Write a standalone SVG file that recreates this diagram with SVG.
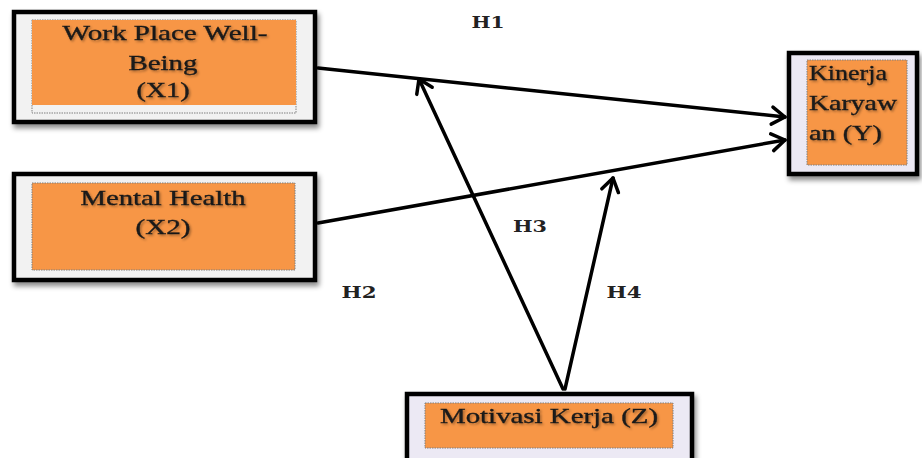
<svg xmlns="http://www.w3.org/2000/svg" width="922" height="458" viewBox="0 0 922 458">
<style>
.frame{stroke:#000;stroke-width:4.5}
.g1{fill:#f2f2f2}
.g2{fill:#ece9f4}
.org{fill:#f79646;stroke:#7f7f7f;stroke-width:1;stroke-dasharray:1.5 1}
.t{font-family:"Liberation Serif","Times New Roman",serif;font-size:21px;fill:#1a1a1a;stroke:#1a1a1a;stroke-width:0.35;filter:url(#ts)}
.h{font-family:"DejaVu Serif","Liberation Serif",serif;font-weight:bold;font-size:17px;fill:#222}
.c{fill:none;stroke:#000;stroke-width:3.5;stroke-linecap:round}
</style>
<defs>
<filter id="sh" x="-10%" y="-10%" width="130%" height="140%">
<feDropShadow dx="2" dy="4" stdDeviation="2.5" flood-color="#000" flood-opacity="0.45"/>
</filter>
<filter id="ts" x="-10%" y="-30%" width="120%" height="160%">
<feDropShadow dx="1.5" dy="1.5" stdDeviation="1" flood-color="#000" flood-opacity="0.35"/>
</filter>
<marker id="ah" viewBox="0 0 22 22" refX="19" refY="11" markerWidth="22" markerHeight="22" markerUnits="userSpaceOnUse" orient="auto">
<path d="M6,2.5 L19,11 L6,19.5" fill="none" stroke="#000" stroke-width="3.5" stroke-linecap="round" stroke-linejoin="round"/>
</marker>
</defs>
<rect width="922" height="458" fill="#fff"/>

<g id="connectors">
<line class="c" x1="318" y1="68" x2="785" y2="117" marker-end="url(#ah)"/>
<line class="c" x1="318" y1="223" x2="785" y2="140" marker-end="url(#ah)"/>
<line class="c" x1="563" y1="389" x2="419" y2="79" marker-end="url(#ah)"/>
<line class="c" x1="565" y1="389" x2="613" y2="178" marker-end="url(#ah)"/>
</g>

<g id="x1">
<rect class="frame g1" x="14" y="12" width="301" height="110" filter="url(#sh)"/>
<rect class="org" x="32" y="20" width="264" height="93" style="fill:none"/>
<rect x="32" y="20" width="264" height="85" fill="#f79646"/>
<text class="t" x="165" y="40" text-anchor="middle" textLength="205" lengthAdjust="spacingAndGlyphs">Work Place Well-</text>
<text class="t" x="163" y="70" text-anchor="middle" textLength="69" lengthAdjust="spacingAndGlyphs">Being</text>
<text class="t" x="163" y="97" text-anchor="middle" textLength="53" lengthAdjust="spacingAndGlyphs">(X1)</text>
</g>

<g id="x2">
<rect class="frame g1" x="14" y="174" width="301" height="106" filter="url(#sh)"/>
<rect class="org" x="32" y="183" width="263" height="87"/>
<text class="t" x="163" y="205" text-anchor="middle" textLength="165" lengthAdjust="spacingAndGlyphs">Mental Health</text>
<text class="t" x="163" y="234" text-anchor="middle" textLength="55" lengthAdjust="spacingAndGlyphs">(X2)</text>
</g>

<g id="y">
<rect class="frame g2" x="789" y="53" width="128" height="121" filter="url(#sh)"/>
<rect class="org" x="807" y="60" width="100" height="105"/>
<text class="t" x="809" y="80" textLength="78" lengthAdjust="spacingAndGlyphs">Kinerja</text>
<text class="t" x="809" y="110" textLength="88" lengthAdjust="spacingAndGlyphs">Karyaw</text>
<text class="t" x="809" y="140" textLength="73" lengthAdjust="spacingAndGlyphs">an (Y)</text>
</g>

<g id="z">
<rect class="frame g2" x="407" y="394" width="285" height="70" filter="url(#sh)"/>
<rect class="org" x="425" y="403" width="248" height="45"/>
<text class="t" x="549" y="423" text-anchor="middle" textLength="218" lengthAdjust="spacingAndGlyphs">Motivasi Kerja (Z)</text>
</g>

<g id="labels">
<text class="h" x="488" y="28" text-anchor="middle" textLength="33" lengthAdjust="spacingAndGlyphs">H1</text>
<text class="h" x="530" y="232" text-anchor="middle" textLength="34" lengthAdjust="spacingAndGlyphs">H3</text>
<text class="h" x="359" y="298" text-anchor="middle" textLength="35" lengthAdjust="spacingAndGlyphs">H2</text>
<text class="h" x="624" y="298" text-anchor="middle" textLength="35" lengthAdjust="spacingAndGlyphs">H4</text>
</g>
</svg>
